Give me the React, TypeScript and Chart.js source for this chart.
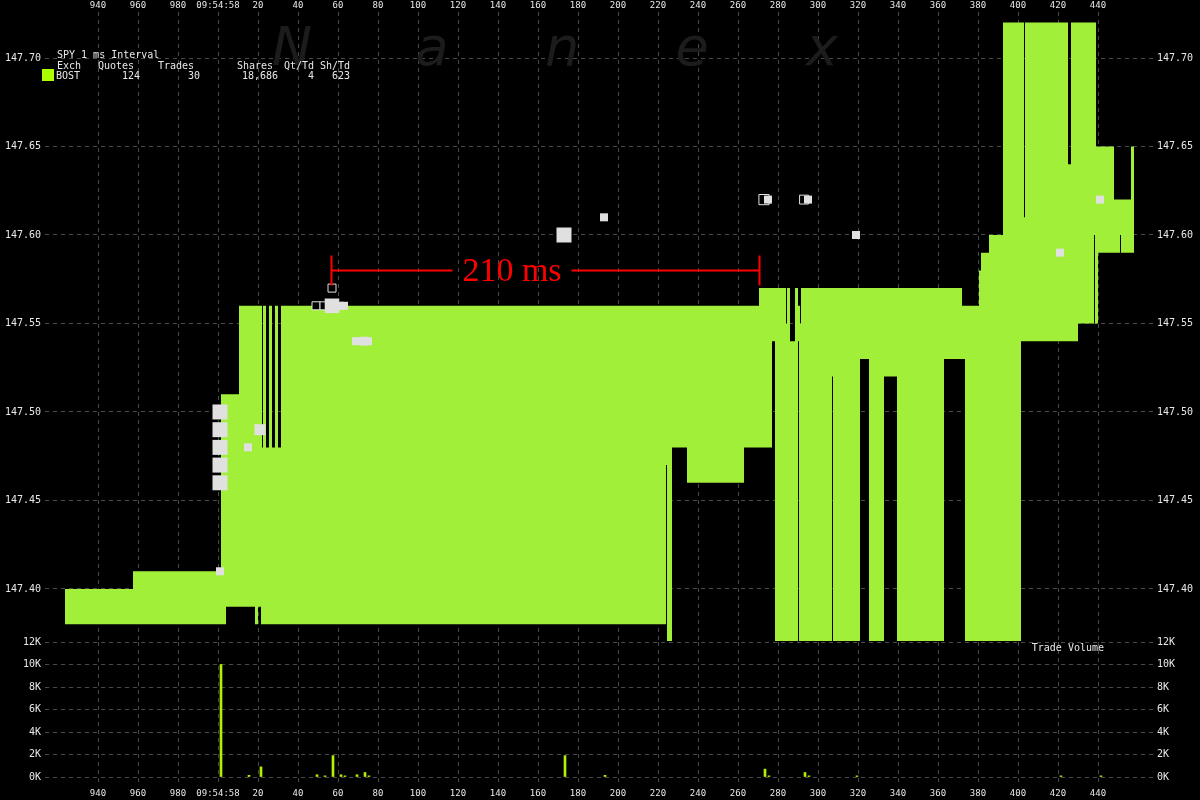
import React, { useEffect, useRef } from 'react';
import { Chart, registerables } from 'chart.js';

Chart.register(...registerables);

// ---------- axis ticks ----------
const xTicks = [-60, -40, -20, 0, 20, 40, 60, 80, 100, 120, 140, 160, 180, 200, 220, 240, 260, 280, 300, 320, 340, 360, 380, 400, 420, 440];
const xTickLabels = ['940', '960', '980', '09:54:58', '20', '40', '60', '80', '100', '120', '140', '160', '180', '200', '220', '240', '260', '280', '300', '320', '340', '360', '380', '400', '420', '440'];
const priceTicks = [147.4, 147.45, 147.5, 147.55, 147.6, 147.65, 147.7];
const priceTickLabels = ['147.40', '147.45', '147.50', '147.55', '147.60', '147.65', '147.70'];
const volumeTicks = [0, 2000, 4000, 6000, 8000, 10000, 12000];
const volumeTickLabels = ['0K', '2K', '4K', '6K', '8K', '10K', '12K'];

// ---------- BOST quote (bid / ask) step changes, ms after 09:54:58.000 ----------
const quoteTimes = [-76.5, -42.5, 1.5, 4, 10.5, 18.5, 20, 21.5, 22, 22.5, 24, 25.5, 27, 28.5, 30, 31.5, 224, 224.5, 227, 234.5, 263, 270.5, 277, 278.5, 284, 284.5, 286, 288.5, 290, 290.5, 291, 291.5, 307, 307.5, 321, 325.5, 333, 339.5, 363, 372, 373.5, 380.5, 381.5, 385.5, 392.5, 401.5, 403, 403.5, 425, 426.5, 430, 438, 438.5, 439, 440, 448, 451, 451.5, 456.5, 458];
const quoteBid = [147.38, 147.38, 147.38, 147.39, 147.39, 147.38, 147.39, 147.38, 147.38, 147.38, 147.38, 147.38, 147.38, 147.38, 147.38, 147.38, 147.47, 147.36, 147.48, 147.46, 147.48, 147.48, 147.54, 147.36, 147.36, 147.36, 147.36, 147.36, 147.54, 147.36, 147.36, 147.36, 147.52, 147.36, 147.53, 147.36, 147.52, 147.36, 147.53, 147.53, 147.36, 147.36, 147.36, 147.36, 147.36, 147.54, 147.54, 147.54, 147.54, 147.54, 147.55, 147.6, 147.55, 147.55, 147.59, 147.59, 147.6, 147.59, 147.59, 147.59];
const quoteAsk = [147.4, 147.41, 147.51, 147.51, 147.56, 147.56, 147.56, 147.56, 147.48, 147.56, 147.48, 147.56, 147.48, 147.56, 147.48, 147.56, 147.56, 147.56, 147.56, 147.56, 147.56, 147.57, 147.57, 147.57, 147.55, 147.57, 147.54, 147.57, 147.56, 147.56, 147.55, 147.57, 147.57, 147.57, 147.57, 147.57, 147.57, 147.57, 147.57, 147.56, 147.56, 147.58, 147.59, 147.6, 147.72, 147.72, 147.61, 147.72, 147.64, 147.72, 147.72, 147.72, 147.72, 147.65, 147.65, 147.62, 147.62, 147.62, 147.65, 147.65];

// ---------- trades ----------
const tradeTimes = [1, 1, 1, 1, 1, 1, 15, 21, 49, 53, 57, 57, 61, 63, 69, 73, 75, 173, 193, 273, 275, 293, 295, 319, 421, 441];
const tradePrices = [147.5, 147.49, 147.48, 147.47, 147.46, 147.41, 147.48, 147.49, 147.56, 147.56, 147.56, 147.57, 147.56, 147.56, 147.54, 147.54, 147.54, 147.6, 147.61, 147.62, 147.62, 147.62, 147.62, 147.6, 147.59, 147.62];
const tradeShares = [2000, 2000, 2000, 2000, 1800, 200, 150, 900, 200, 100, 1700, 200, 200, 100, 200, 400, 100, 1900, 150, 700, 100, 400, 100, 100, 100, 100];
const tradeHollow = [false, false, false, false, false, false, false, false, true, true, false, true, false, false, false, false, false, false, false, true, false, true, false, false, false, false];

// ---------- trade volume per ms ----------
const volumeTimes = [1, 15, 21, 49, 53, 57, 61, 63, 69, 73, 75, 173, 193, 273, 275, 293, 295, 319, 421, 441];
const volumeShares = [10000, 150, 900, 200, 100, 1900, 200, 100, 200, 400, 100, 1900, 150, 700, 100, 400, 100, 100, 100, 100];

// ---------- annotation ----------
const annotStart = 56.5;
const annotEnd = 270.5;
const annotPrice = 147.58;
const annotLabel = '210 ms';
const annotLabelAt = 147;

// ---------- legend ----------
const legendTitle = 'SPY 1 ms Interval';
const legendHeaders = ['Exch', 'Quotes', 'Trades', 'Shares', 'Qt/Td', 'Sh/Td'];
const legendValues = ['BOST', '124', '30', '18,686', '4', '623'];

const X_MIN = -86.5;
const X_MAX = 467.5;
const P_MIN = 147.3706;
const P_MAX = 147.726;
const V_MIN = -800;
const V_MAX = 12000;

const GREEN = '#a2ef3a';
const VOL_GREEN = '#b4f000';
const LEGEND_GREEN = '#aaff00';
const TEXT = '#e8e8e8';
const GRID = '#4a4a4a';
const MONO = '"DejaVu Sans Mono", monospace';
const TRADE_FILL = '#e0e0e0';

function tradeSide(shares: number) {
  return 8 + 7 * Math.min(1, Math.max(0, (shares - 200) / 1600));
}

function xAxis(position: 'top' | 'bottom', height: number, padding: number) {
  return {
    type: 'linear',
    position,
    min: X_MIN,
    max: X_MAX,
    offset: false,
    afterBuildTicks: (s: any) => {
      s.ticks = xTicks.map((v) => ({ value: v }));
    },
    afterFit: (s: any) => {
      s.height = height;
      s.paddingLeft = 0;
      s.paddingRight = 0;
    },
    ticks: {
      color: TEXT,
      font: { family: MONO, size: 9 },
      padding,
      maxRotation: 0,
      autoSkip: false,
      callback: (_v: any, i: number) => xTickLabels[i],
    },
    grid: { color: GRID, drawTicks: false, lineWidth: 1, offset: false },
    border: { display: false, dash: [4, 4] },
  };
}

function yAxis(position: 'left' | 'right', width: number, min: number, max: number, ticks: number[], labels: string[], grid: boolean) {
  return {
    type: 'linear',
    position,
    min,
    max,
    afterBuildTicks: (s: any) => {
      s.ticks = ticks.map((v) => ({ value: v }));
    },
    afterFit: (s: any) => {
      s.width = width;
      s.paddingTop = 0;
      s.paddingBottom = 0;
    },
    ticks: {
      color: TEXT,
      font: { family: MONO, size: 10 },
      padding: 4,
      autoSkip: false,
      callback: (_v: any, i: number) => labels[i],
    },
    grid: { display: grid, color: GRID, drawTicks: false, lineWidth: 1 },
    border: { display: false, dash: [4, 4] },
  };
}

const pricePlugin = {
  id: 'priceDecor',
  beforeDatasetsDraw(chart: any) {
    const ctx = chart.ctx;
    ctx.save();
    ctx.fillStyle = '#1c1c1c';
    ctx.font = 'italic 54px "DejaVu Sans"';
    ctx.textAlign = 'center';
    ctx.textBaseline = 'alphabetic';
    const letters = ['N', 'a', 'n', 'e', 'x'];
    const xs = [292, 432, 562, 692, 822];
    letters.forEach((l, i) => ctx.fillText(l, xs[i], 65));
    ctx.restore();
  },
  afterDatasetsDraw(chart: any) {
    const ctx = chart.ctx;
    const xs = chart.scales.x;
    const ys = chart.scales.yL;
    ctx.save();
    // annotation
    const x1 = Math.round(xs.getPixelForValue(annotStart)) + 0.5;
    const x2 = Math.round(xs.getPixelForValue(annotEnd)) + 0.5;
    const y = Math.round(ys.getPixelForValue(annotPrice)) + 0.5;
    const tx = xs.getPixelForValue(annotLabelAt);
    ctx.font = '34px "Liberation Serif"';
    const tw = ctx.measureText(annotLabel).width;
    ctx.strokeStyle = '#ff0000';
    ctx.fillStyle = '#ff0000';
    ctx.lineWidth = 2;
    ctx.beginPath();
    ctx.moveTo(x1, y);
    ctx.lineTo(tx - tw / 2 - 10, y);
    ctx.moveTo(tx + tw / 2 + 10, y);
    ctx.lineTo(x2, y);
    ctx.moveTo(x1, y - 15);
    ctx.lineTo(x1, y + 15);
    ctx.moveTo(x2, y - 15);
    ctx.lineTo(x2, y + 15);
    ctx.stroke();
    ctx.textAlign = 'center';
    ctx.textBaseline = 'alphabetic';
    ctx.fillText(annotLabel, tx, y + 10);

    // legend
    ctx.fillStyle = TEXT;
    ctx.font = '10px ' + MONO;
    ctx.textAlign = 'left';
    ctx.fillText(legendTitle, 57, 58);
    const hx = [57, 98, 158, 237, 284, 320];
    legendHeaders.forEach((h, i) => ctx.fillText(h, hx[i], 69));
    ctx.fillText(legendValues[0], 56, 79);
    ctx.textAlign = 'right';
    const vx = [0, 140, 200, 278, 314, 350];
    for (let i = 1; i < legendValues.length; i++) ctx.fillText(legendValues[i], vx[i], 79);
    ctx.fillStyle = LEGEND_GREEN;
    ctx.fillRect(42, 69, 12, 12);
    ctx.restore();
  },
};

const volumePlugin = {
  id: 'volDecor',
  afterDatasetsDraw(chart: any) {
    const ctx = chart.ctx;
    ctx.save();
    ctx.fillStyle = TEXT;
    ctx.font = '10px ' + MONO;
    ctx.textAlign = 'right';
    ctx.textBaseline = 'middle';
    ctx.fillText('Trade Volume', 1104, 17);
    ctx.restore();
  },
};

export default function App() {
  const priceRef = useRef<HTMLCanvasElement>(null);
  const volRef = useRef<HTMLCanvasElement>(null);

  useEffect(() => {
    document.body.style.margin = '0';
    document.body.style.background = '#000';

    const priceChart = new Chart(priceRef.current as HTMLCanvasElement, {
      type: 'line',
      data: {
        datasets: [
          {
            label: 'Trades',
            data: tradeTimes.map((t, i) => ({ x: t, y: tradePrices[i] })),
            showLine: false,
            pointStyle: 'rect',
            pointRadius: (c: any) => tradeSide(tradeShares[c.dataIndex]) / Math.SQRT2,
            pointBackgroundColor: (c: any) => (tradeHollow[c.dataIndex] ? '#000000' : TRADE_FILL),
            pointBorderColor: TRADE_FILL,
            pointBorderWidth: (c: any) => (tradeHollow[c.dataIndex] ? 1 : 0),
            xAxisID: 'x',
            yAxisID: 'yL',
          } as any,
          {
            label: 'Ask',
            data: quoteTimes.map((t, i) => ({ x: t, y: quoteAsk[i] })),
            stepped: true,
            fill: '+1',
            backgroundColor: GREEN,
            borderColor: 'rgba(0,0,0,0)',
            borderWidth: 0,
            pointRadius: 0,
            xAxisID: 'x',
            yAxisID: 'yL',
          } as any,
          {
            label: 'Bid',
            data: quoteTimes.map((t, i) => ({ x: t, y: quoteBid[i] })),
            stepped: true,
            fill: false,
            borderColor: 'rgba(0,0,0,0)',
            borderWidth: 0,
            pointRadius: 0,
            xAxisID: 'x',
            yAxisID: 'yL',
          } as any,
        ],
      },
      options: {
        responsive: false,
        animation: false,
        devicePixelRatio: 1,
        layout: { padding: { top: 0, left: 0, right: 0, bottom: 19 } },
        plugins: { legend: { display: false }, tooltip: { enabled: false } },
        events: [],
        scales: {
          x: xAxis('top', 12, 1) as any,
          yL: yAxis('left', 45, P_MIN, P_MAX, priceTicks, priceTickLabels, true) as any,
          yR: yAxis('right', 47, P_MIN, P_MAX, priceTicks, priceTickLabels, false) as any,
        },
      },
      plugins: [pricePlugin],
    });

    const volChart = new Chart(volRef.current as HTMLCanvasElement, {
      type: 'bar',
      data: {
        datasets: [
          {
            label: 'Trade Volume',
            data: volumeTimes.map((t, i) => ({ x: t + 0.5, y: volumeShares[i] })),
            backgroundColor: VOL_GREEN,
            barThickness: 2,
            xAxisID: 'x',
            yAxisID: 'yL',
          } as any,
        ],
      },
      options: {
        responsive: false,
        animation: false,
        devicePixelRatio: 1,
        layout: { padding: { top: 11 } },
        plugins: { legend: { display: false }, tooltip: { enabled: false } },
        events: [],
        scales: {
          x: xAxis('bottom', 15, 2) as any,
          yL: yAxis('left', 45, V_MIN, V_MAX, volumeTicks, volumeTickLabels, true) as any,
          yR: yAxis('right', 47, V_MIN, V_MAX, volumeTicks, volumeTickLabels, false) as any,
        },
      },
      plugins: [volumePlugin],
    });

    return () => {
      priceChart.destroy();
      volChart.destroy();
    };
  }, []);

  return (
    <div style={{ position: 'fixed', left: 0, top: 0, width: 1200, height: 800, background: '#000', overflow: 'hidden' }}>
      <canvas ref={priceRef} width={1200} height={660} style={{ position: 'absolute', left: 0, top: 0 }} />
      <canvas ref={volRef} width={1200} height={170} style={{ position: 'absolute', left: 0, top: 631 }} />
    </div>
  );
}
